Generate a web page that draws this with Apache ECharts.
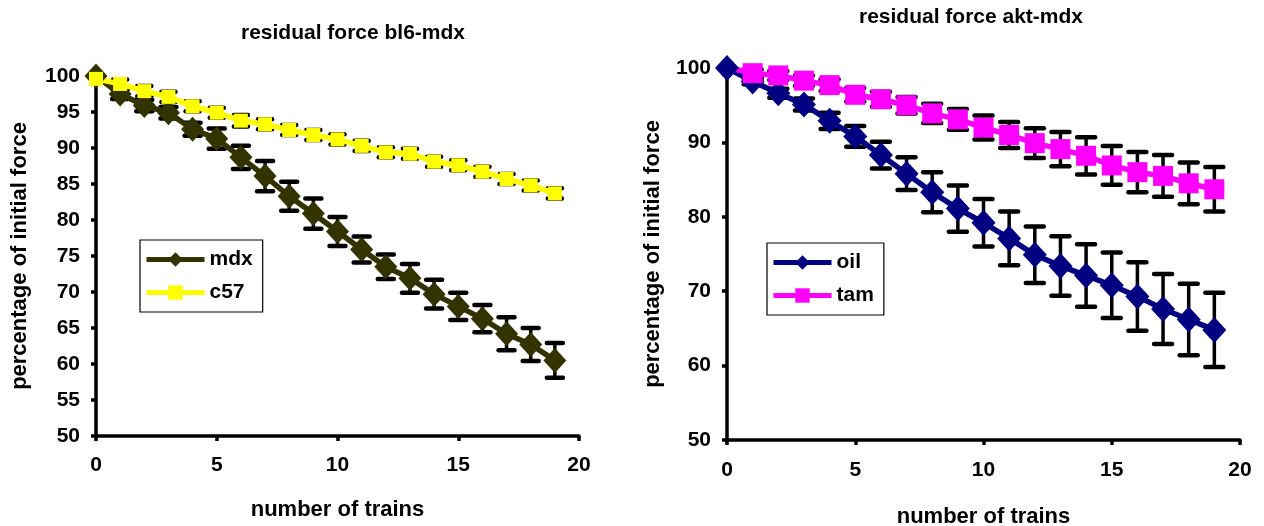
<!DOCTYPE html>
<html>
<head>
<meta charset="utf-8">
<script src="https://cdn.jsdelivr.net/npm/echarts@6/dist/echarts.min.js"></script>
<style>
  html, body { margin: 0; padding: 0; background: #fff; }
  #chart { width: 1264px; height: 526px; }
</style>
</head>
<body>
<div id="chart"></div>
<script>
// Number of trains (x values)
const trains = [0, 1, 2, 3, 4, 5, 6, 7, 8, 9, 10, 11, 12, 13, 14, 15, 16, 17, 18, 19];

// bl6-mdx panel: percentage of initial force and error (±)
const mdx    = [100, 97.5, 95.9, 94.9, 92.6, 91.3, 88.7, 86.1, 83.3, 80.9, 78.4, 75.9, 73.5, 71.9, 69.7, 68.0, 66.3, 64.2, 62.7, 60.5];
const mdxErr = [0, 0.7, 0.8, 0.8, 0.9, 1.4, 1.6, 2.1, 2.0, 2.1, 2.0, 1.8, 1.7, 2.0, 2.0, 1.9, 1.9, 2.3, 2.3, 2.4];
const c57    = [99.6, 98.9, 97.9, 97.1, 95.8, 94.9, 93.8, 93.3, 92.5, 91.8, 91.2, 90.3, 89.4, 89.2, 88.1, 87.6, 86.7, 85.7, 84.8, 83.7];
const c57Err = [0, 0.6, 0.7, 0.7, 0.7, 0.7, 0.8, 0.7, 0.7, 0.7, 0.7, 0.7, 0.7, 0.7, 0.7, 0.7, 0.7, 0.7, 0.7, 0.7];

// akt-mdx panel
const oil    = [100, 98.2, 96.6, 95.1, 92.9, 90.8, 88.3, 85.8, 83.3, 81.1, 79.2, 77.1, 74.9, 73.4, 72.1, 70.8, 69.3, 67.6, 66.2, 64.8];
const oilErr = [0, 0.4, 0.6, 0.8, 1.1, 1.4, 1.8, 2.2, 2.7, 3.1, 3.2, 3.6, 3.8, 4.0, 4.2, 4.4, 4.6, 4.7, 4.8, 5.0];
const tam    = [100.1, 99.3, 99.0, 98.3, 97.7, 96.4, 95.8, 95.0, 93.9, 93.1, 92.0, 91.0, 89.9, 89.1, 88.2, 86.9, 86.0, 85.5, 84.5, 83.7];
const tamErr = [0, 0.5, 0.6, 0.7, 0.8, 0.9, 1.0, 1.1, 1.3, 1.4, 1.6, 1.75, 2.0, 2.3, 2.5, 2.6, 2.7, 2.8, 2.8, 3.0];

const titles = ['residual force bl6-mdx', 'residual force akt-mdx'];
const xName = 'number of trains';
const yName = 'percentage of initial force';

const FONT = '"Liberation Sans", Arial, sans-serif';
const txt = (size) => ({ fontFamily: FONT, fontWeight: 'bold', fontSize: size, color: '#000' });

function pairs(vals) { return trains.map((t, i) => [t, vals[i]]); }
function errPairs(vals, errs) { return trains.map((t, i) => [t, vals[i], errs[i]]); }

function errorBars(xIdx, yIdx, vals, errs, capHalf) {
  return {
    type: 'custom',
    xAxisIndex: xIdx,
    yAxisIndex: yIdx,
    z: 1,
    silent: true,
    data: errPairs(vals, errs),
    encode: { x: 0, y: 1 },
    renderItem: function (params, api) {
      const x = api.value(0), v = api.value(1), e = api.value(2);
      if (!e) return null;
      const hi = api.coord([x, v + e]);
      const lo = api.coord([x, v - e]);
      const bar = { stroke: '#000', lineWidth: 3.5, lineCap: 'round' };
      const cap = { stroke: '#000', lineWidth: 4.5, lineCap: 'round' };
      return {
        type: 'group',
        children: [
          { type: 'line', shape: { x1: hi[0], y1: hi[1], x2: lo[0], y2: lo[1] }, style: bar },
          { type: 'line', shape: { x1: hi[0] - capHalf, y1: hi[1], x2: hi[0] + capHalf, y2: hi[1] }, style: cap },
          { type: 'line', shape: { x1: lo[0] - capHalf, y1: lo[1], x2: lo[0] + capHalf, y2: lo[1] }, style: cap }
        ]
      };
    }
  };
}

function xAxis(gridIndex, gap, labelMargin) {
  return {
    gridIndex, type: 'value', min: 0, max: 20, interval: 5,
    name: xName, nameLocation: 'middle', nameGap: gap, nameTextStyle: txt(22),
    axisLine: { show: true, lineStyle: { color: '#000', width: 3.5 } },
    axisTick: { show: true, inside: false, length: 5, lineStyle: { color: '#000', width: 3.5 } },
    axisLabel: Object.assign(txt(21), { margin: labelMargin }),
    splitLine: { show: false }
  };
}
function yAxis(gridIndex, interval, gap) {
  return {
    gridIndex, type: 'value', min: 50, max: 100, interval,
    name: yName, nameLocation: 'middle', nameGap: gap, nameRotate: 90, nameTextStyle: txt(22),
    axisLine: { show: true, lineStyle: { color: '#000', width: 3.5 } },
    axisTick: { show: true, inside: false, length: 5, lineStyle: { color: '#000', width: 3.5 } },
    axisLabel: Object.assign(txt(21), { margin: 16 }),
    splitLine: { show: false }
  };
}

function lineSeries(name, xIdx, yIdx, vals, color, symbol, size) {
  return {
    name, type: 'line', xAxisIndex: xIdx, yAxisIndex: yIdx, z: 3,
    data: pairs(vals),
    symbol, symbolSize: size, showSymbol: true,
    lineStyle: { color, width: 5.5 },
    itemStyle: { color, borderColor: color, borderWidth: 0 },
    animation: false
  };
}

const legendBase = {
  orient: 'vertical',
  backgroundColor: '#fff',
  borderColor: '#000',
  borderWidth: 1.2,
  borderRadius: 0,
  padding: [9, 10, 9, 4],
  itemGap: 12,
  itemWidth: 58,
  itemHeight: 18,
  lineStyle: { width: 5 },
  textStyle: txt(21)
};

// Fixed plot rectangles; keep the layout from being squeezed to fit labels
const gridBase = { containLabel: false, outerBoundsMode: 'none' };

const option = {
  backgroundColor: '#fff',
  animation: false,
  title: [
    { text: titles[0], left: 348, top: 18, textAlign: 'center', textStyle: txt(21) },
    { text: titles[1], left: 966, top: 2, textAlign: 'center', textStyle: txt(21) }
  ],
  legend: [
    Object.assign({}, legendBase, { data: ['mdx', 'c57'], left: 140, top: 240 }),
    Object.assign({}, legendBase, { data: ['oil', 'tam'], left: 767, top: 243 })
  ],
  grid: [
    Object.assign({ left: 96, top: 76, width: 483, height: 360 }, gridBase),
    Object.assign({ left: 727, top: 68, width: 513, height: 372 }, gridBase)
  ],
  xAxis: [xAxis(0, 63, 19), xAxis(1, 66, 20)],
  yAxis: [yAxis(0, 5, 65), yAxis(1, 10, 63)],
  series: [
    errorBars(0, 0, mdx, mdxErr, 8),
    errorBars(0, 0, c57, c57Err, 7),
    lineSeries('mdx', 0, 0, mdx, '#333300', 'diamond', [23, 25]),
    lineSeries('c57', 0, 0, c57, '#FFFF00', 'rect', 14),
    errorBars(1, 1, oil, oilErr, 9),
    errorBars(1, 1, tam, tamErr, 9),
    lineSeries('oil', 1, 1, oil, '#000080', 'diamond', [24, 26]),
    lineSeries('tam', 1, 1, tam, '#FF00FF', 'rect', 20)
  ]
};

const chart = echarts.init(document.getElementById('chart'), null, { renderer: 'canvas' });
chart.setOption(option);
</script>
</body>
</html>
